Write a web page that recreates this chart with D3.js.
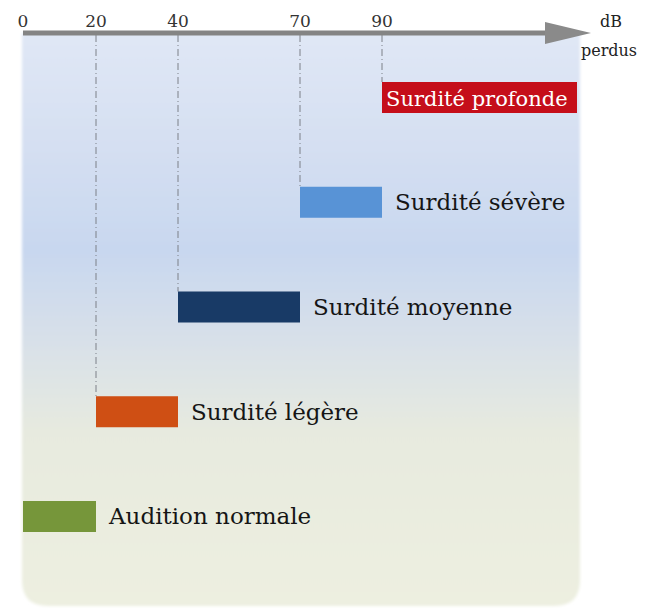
<!DOCTYPE html>
<html>
<head>
<meta charset="utf-8">
<script src="https://cdn.jsdelivr.net/npm/d3@7"></script>
<style>
  body { margin: 0; background: #fff; }
  svg { display: block; }
</style>
</head>
<body>
<svg id="chart" width="648" height="614"></svg>
<script>
// hearing loss levels, top row first
const categories = ["Surdité profonde", "Surdité sévère", "Surdité moyenne", "Surdité légère", "Audition normale"];
const startDb = [90, 70, 40, 20, 0];
const endDb = [120, 90, 70, 40, 20];
const colors = ["#c50e1a", "#5893d6", "#183a66", "#cf4f14", "#76963a"];
const tickValues = [0, 20, 40, 70, 90];

const svg = d3.select("#chart");
const axisY = 33;

// the axis is not evenly spaced in the picture, so piecewise
const x = d3.scaleLinear()
  .domain([0, 20, 40, 70, 90, 120])
  .range([23, 96, 178, 300, 382, 577]);

const y = d3.scaleBand()
  .domain(categories)
  .range([82, 532])
  .paddingInner(0.704)
  .paddingOuter(0);

const defs = svg.append("defs");
const grad = defs.append("linearGradient")
  .attr("id", "bg")
  .attr("x1", 0).attr("y1", 0).attr("x2", 0).attr("y2", 1);
grad.selectAll("stop")
  .data([
    [0, "#e0e7f5"],
    [0.18, "#d6e0f2"],
    [0.38, "#c8d7ef"],
    [0.55, "#d9e1e8"],
    [0.7, "#e7eadf"],
    [1, "#edefe0"],
  ])
  .join("stop")
  .attr("offset", (d) => d[0])
  .attr("stop-color", (d) => d[1]);

defs.append("filter").attr("id", "soft")
  .append("feGaussianBlur").attr("stdDeviation", 1.5);

// background panel, rounded at the bottom
const px0 = 22, px1 = 580, py0 = axisY, py1 = 606, r = 26;
svg.append("path")
  .attr("d", `M${px0},${py0}H${px1}V${py1 - r}Q${px1},${py1} ${px1 - r},${py1}H${px0 + r}Q${px0},${py1} ${px0},${py1 - r}Z`)
  .attr("fill", "url(#bg)")
  .attr("filter", "url(#soft)");

// dash-dot guides from the axis down to each bar
svg.append("g")
  .selectAll("line")
  .data(categories.filter((c, i) => startDb[i] > 0))
  .join("line")
  .attr("x1", (c) => x(startDb[categories.indexOf(c)]))
  .attr("x2", (c) => x(startDb[categories.indexOf(c)]))
  .attr("y1", axisY + 2)
  .attr("y2", (c) => y(c))
  .attr("stroke", "#7d8088")
  .attr("stroke-width", 1)
  .attr("stroke-dasharray", "7,3,1,3");

// bars
svg.append("g")
  .selectAll("rect")
  .data(categories)
  .join("rect")
  .attr("x", (c, i) => x(startDb[i]))
  .attr("y", (c) => y(c))
  .attr("width", (c, i) => x(endDb[i]) - x(startDb[i]))
  .attr("height", y.bandwidth())
  .attr("fill", (c, i) => colors[i]);

// labels: inside the last bar, beside the others
svg.append("g")
  .selectAll("text")
  .data(categories)
  .join("text")
  .attr("x", (c, i) => (i === 0 ? x(startDb[i]) + 4 : x(endDb[i]) + 13))
  .attr("y", (c) => y(c) + y.bandwidth() / 2 + 8)
  .attr("font-family", "DejaVu Serif, serif")
  .attr("font-size", (c, i) => (i === 0 ? 21 : 23))
  .attr("fill", (c, i) => (i === 0 ? "#fff" : "#151515"))
  .text((c) => c);

// axis with arrow
const axis = svg.append("g");
axis.append("line")
  .attr("x1", x(0))
  .attr("x2", 548)
  .attr("y1", axisY)
  .attr("y2", axisY)
  .attr("stroke", "#848484")
  .attr("stroke-width", 5);
axis.append("path")
  .attr("d", `M545,${axisY - 11}L591,${axisY}L545,${axisY + 11}Z`)
  .attr("fill", "#8a8a8a");

axis.selectAll("text.tick")
  .data(tickValues)
  .join("text")
  .attr("class", "tick")
  .attr("x", (d) => x(d))
  .attr("y", axisY - 6)
  .attr("text-anchor", "middle")
  .attr("font-family", "DejaVu Serif, serif")
  .attr("font-size", 17)
  .attr("fill", "#333")
  .text((d) => d);

axis.append("text")
  .attr("x", 611)
  .attr("y", 27)
  .attr("text-anchor", "middle")
  .attr("font-family", "DejaVu Serif, serif")
  .attr("font-size", 16)
  .attr("fill", "#222")
  .text("dB");
axis.append("text")
  .attr("x", 609)
  .attr("y", 56)
  .attr("text-anchor", "middle")
  .attr("font-family", "DejaVu Serif, serif")
  .attr("font-size", 16)
  .attr("fill", "#222")
  .text("perdus");
</script>
</body>
</html>
